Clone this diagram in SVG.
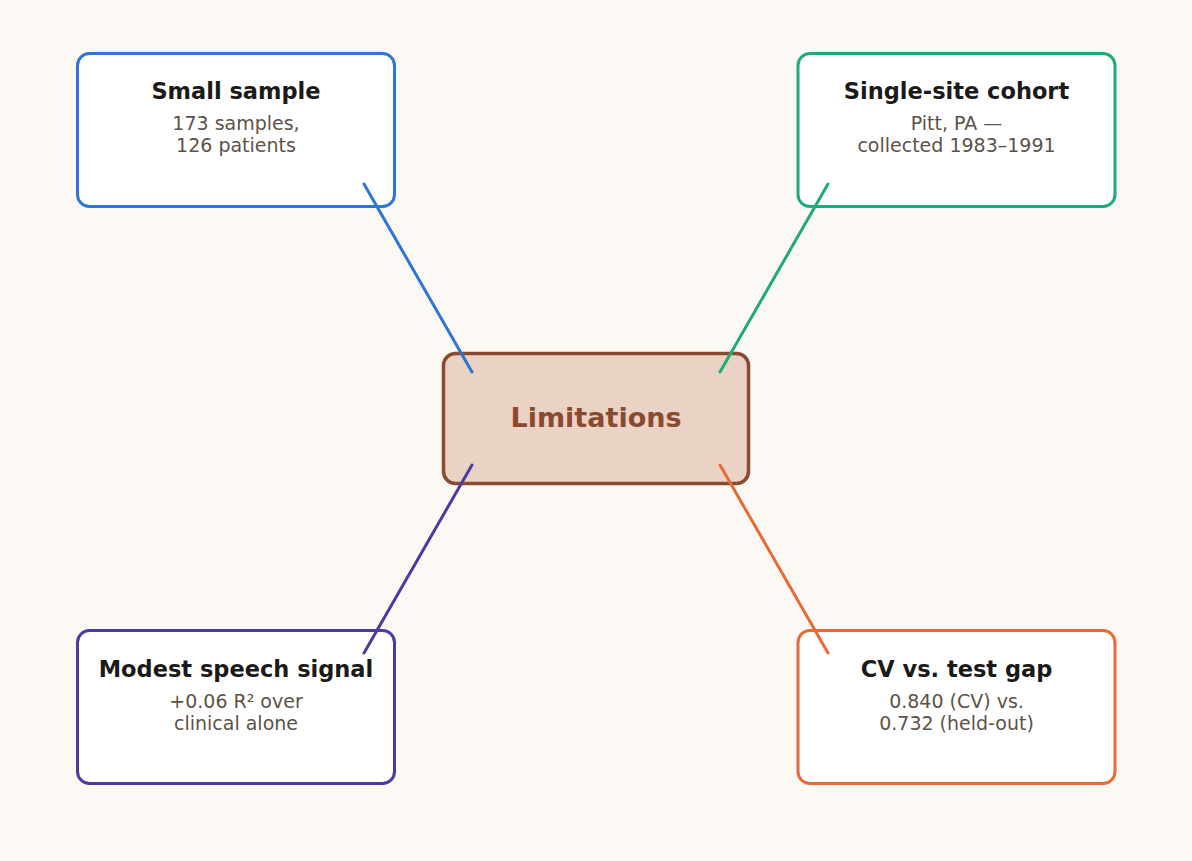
<svg xmlns="http://www.w3.org/2000/svg" width="1192" height="861" viewBox="0 0 1192 861">
<style>
.box{fill:#ffffff;stroke-width:3}
.t{font-family:"DejaVu Sans",sans-serif;font-weight:bold;font-size:22.5px;fill:#1c1a18;text-anchor:middle}
.s{font-family:"DejaVu Sans",sans-serif;font-size:19px;fill:#5e5248;text-anchor:middle}
.c{fill:none;stroke-width:3;stroke-linecap:round}
</style>
<rect width="1192" height="861" fill="#fcf8f4"/>
<g id="center">
<rect x="443.5" y="353.5" width="305" height="130" rx="12" fill="#ead3c5" stroke="#8b4a2f" stroke-width="3.5"/>
<text x="596" y="427" font-family="DejaVu Sans,sans-serif" font-weight="bold" font-size="27" fill="#8b4a2f" text-anchor="middle">Limitations</text>
</g>
<g id="small-sample">
<rect class="box" x="77.5" y="53.5" width="317" height="153" rx="12" stroke="#2b76d6"/>
<text class="t" x="236" y="99">Small sample</text>
<text class="s" x="236" y="130">173 samples,</text>
<text class="s" x="236" y="152">126 patients</text>
</g>
<g id="single-site">
<rect class="box" x="798" y="53.5" width="317" height="153" rx="12" stroke="#1fab78"/>
<text class="t" x="956.5" y="99">Single-site cohort</text>
<text class="s" x="956.5" y="130">Pitt, PA —</text>
<text class="s" x="956.5" y="152">collected 1983–1991</text>
</g>
<g id="speech-signal">
<rect class="box" x="77.5" y="630.5" width="317" height="153" rx="12" stroke="#4a3aa6"/>
<text class="t" x="236" y="677">Modest speech signal</text>
<text class="s" x="236" y="708">+0.06 R² over</text>
<text class="s" x="236" y="730">clinical alone</text>
</g>
<g id="cv-gap">
<rect class="box" x="798" y="630.5" width="317" height="153" rx="12" stroke="#e86a35"/>
<text class="t" x="956.5" y="677">CV vs. test gap</text>
<text class="s" x="956.5" y="708">0.840 (CV) vs.</text>
<text class="s" x="956.5" y="730">0.732 (held-out)</text>
</g>
<g id="connectors">
<line class="c" x1="364" y1="184" x2="472" y2="372" stroke="#2b76d6"/>
<line class="c" x1="828" y1="184" x2="720" y2="372" stroke="#1fab78"/>
<line class="c" x1="472" y1="465" x2="364" y2="653" stroke="#4a3aa6"/>
<line class="c" x1="720" y1="465" x2="828" y2="653" stroke="#e86a35"/>
</g>
</svg>
